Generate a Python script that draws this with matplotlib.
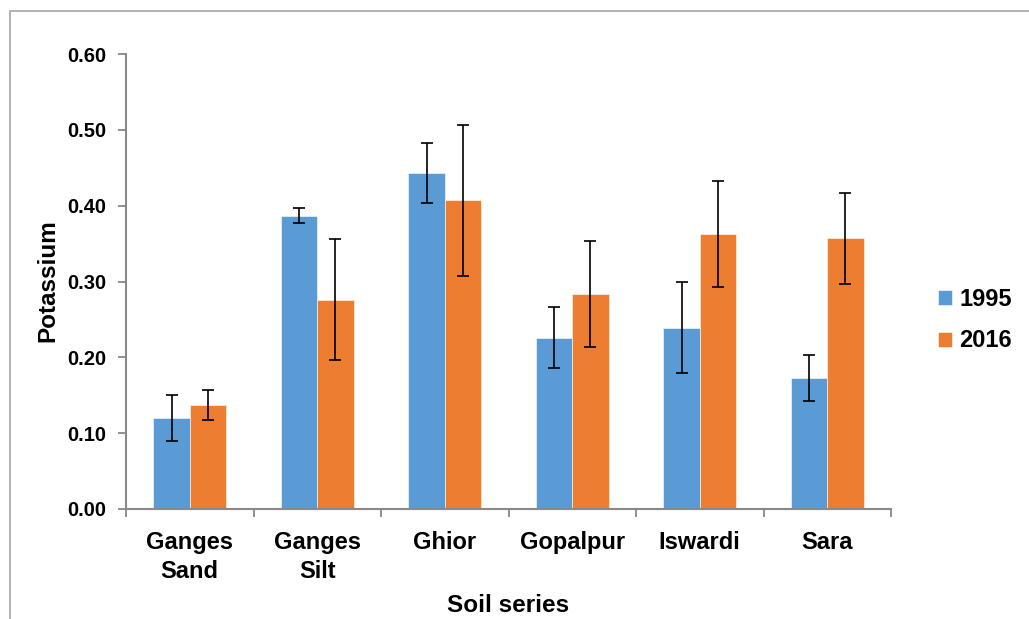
import matplotlib
matplotlib.use('Agg')
import matplotlib.pyplot as plt
import numpy as np
from matplotlib.patches import Rectangle

plt.rcParams['font.family'] = ['Liberation Sans', 'DejaVu Sans']

# ── data ──
soils = ['Ganges\nSand', 'Ganges\nSilt', 'Ghior', 'Gopalpur', 'Iswardi', 'Sara']
k_1995 = [0.120, 0.387, 0.443, 0.226, 0.239, 0.173]
err_1995 = [0.030, 0.010, 0.040, 0.040, 0.060, 0.030]
k_2016 = [0.137, 0.276, 0.407, 0.283, 0.363, 0.357]
err_2016 = [0.020, 0.080, 0.100, 0.070, 0.070, 0.060]
years = ['1995', '2016']

C_BLUE = '#5B9BD5'
C_ORANGE = '#ED7D31'
C_AXIS = '#898989'

W, H = 1029, 619
fig = plt.figure(figsize=(W / 100, H / 100), dpi=100)
fig.patch.set_facecolor('white')
ax = fig.add_axes([126 / W, 1 - 509 / H, (891 - 126) / W, (509 - 54) / H])

# outer chart frame (only top/left visible in the reference)
fig.patches.append(Rectangle((10 / W, -0.1), 1.2, 1.1 - 11 / H, transform=fig.transFigure,
                             fill=False, edgecolor='#ADADAD', linewidth=1.3))

x = np.arange(len(soils))
bw = 0.286
ebar = dict(ecolor='black', elinewidth=1.2, capsize=4.5, capthick=1.2)
b1 = ax.bar(x - bw / 2, k_1995, bw, color=C_BLUE, edgecolor='white', linewidth=0.4,
            yerr=err_1995, error_kw=ebar, label=years[0])
b2 = ax.bar(x + bw / 2, k_2016, bw, color=C_ORANGE, edgecolor='white', linewidth=0.4,
            yerr=err_2016, error_kw=ebar, label=years[1])

ax.set_xlim(-0.5, len(soils) - 0.5)
ax.set_ylim(0, 0.60)
ax.set_yticks(np.arange(0, 0.61, 0.10))
ax.set_yticklabels([f'{v:.2f}' for v in np.arange(0, 0.61, 0.10)], fontsize=14.5, fontweight='bold')
ax.set_xticks(x)
ax.set_xticklabels(soils, fontsize=17, fontweight='bold', linespacing=1.3)
ax.set_xticks(np.arange(-0.5, len(soils), 1), minor=True)
ax.tick_params(axis='x', which='major', length=0, pad=16)
ax.tick_params(axis='x', which='minor', length=6, width=1.3, color=C_AXIS, direction='out')
ax.tick_params(axis='y', length=6, width=1.3, color=C_AXIS, direction='out', pad=8)

for s in ['top', 'right']:
    ax.spines[s].set_visible(False)
for s in ['left', 'bottom']:
    ax.spines[s].set_color(C_AXIS)
    ax.spines[s].set_linewidth(1.5)

fig.text(48 / W, 1 - 281 / H, 'Potassium', rotation=90, fontsize=17.5, fontweight='bold',
         ha='center', va='center')
fig.text(508 / W, 1 - 605 / H, 'Soil series', fontsize=17.5, fontweight='bold',
         ha='center', va='center')

leg = fig.legend(handles=[b1, b2], loc='center left', bbox_to_anchor=(926 / W, 1 - 320 / H),
                 frameon=False, prop=dict(size=17, weight='bold'), handlelength=0.6,
                 handleheight=0.6, handletextpad=0.3, labelspacing=0.8, borderpad=0)

fig.savefig('out.png', dpi=100, facecolor='white')
